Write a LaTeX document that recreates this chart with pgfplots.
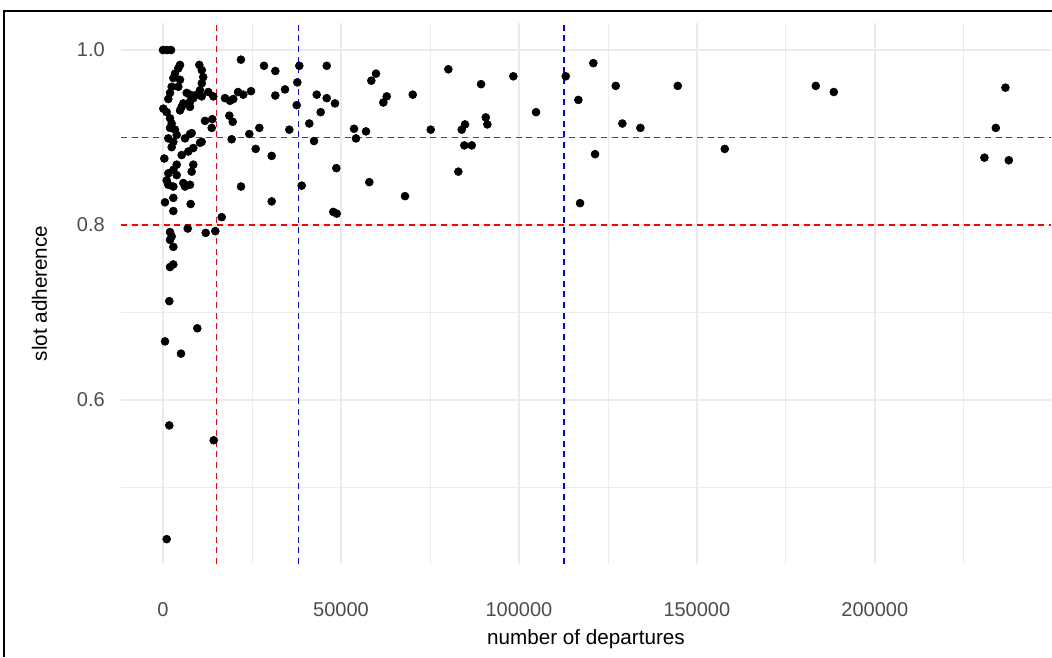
\documentclass[border=0pt]{standalone}
\usepackage{pgfplots}
\pgfplotsset{compat=1.18}
\usepackage{fontspec}
\setmainfont{Liberation Sans}
\definecolor{gridmaj}{HTML}{EBEBEB}
\definecolor{ticklab}{HTML}{4D4D4D}
\definecolor{refred}{HTML}{FF0000}
\definecolor{refblue}{HTML}{0000FF}

\pgfplotstableread{
x y
0 1.000
1100 1.000
2250 1.000
4780 0.983
10200 0.983
4300 0.979
3370 0.973
2900 0.968
2440 0.958
1970 0.951
1490 0.944
10900 0.977
11300 0.969
10900 0.962
10400 0.954
9470 0.949
8510 0.945
7590 0.941
4780 0.966
4300 0.958
6660 0.951
7590 0.949
12730 0.952
14130 0.947
10870 0.947
17420 0.945
18830 0.942
19750 0.944
21080 0.952
22560 0.949
21900 0.989
5700 0.939
100 0.933
1040 0.929
1970 0.922
2440 0.916
4780 0.931
5250 0.935
7590 0.935
1970 0.911
3370 0.909
3850 0.903
1490 0.899
2900 0.895
2440 0.889
7590 0.904
6180 0.899
8510 0.888
7110 0.884
5250 0.880
10400 0.894
11800 0.919
13850 0.921
13680 0.911
18630 0.925
19590 0.918
24250 0.904
19300 0.898
10870 0.895
8060 0.905
370 0.876
3850 0.869
2900 0.863
8510 0.869
8060 0.861
1490 0.859
1040 0.851
1490 0.846
2900 0.844
3850 0.857
5700 0.848
7590 0.846
6180 0.844
560 0.826
2900 0.831
2900 0.816
7780 0.824
16500 0.809
14700 0.793
1970 0.792
2440 0.787
1970 0.783
2900 0.775
6940 0.796
12000 0.791
2900 0.755
1970 0.752
1770 0.713
9640 0.682
560 0.667
5060 0.653
1770 0.571
14250 0.554
1040 0.441
21920 0.844
28380 0.982
31560 0.976
38300 0.982
46000 0.982
59850 0.973
58530 0.965
37740 0.963
34280 0.955
24730 0.953
31560 0.948
43190 0.949
46000 0.945
48330 0.939
44310 0.929
37570 0.937
62860 0.947
61900 0.940
27060 0.911
35490 0.909
41110 0.916
53670 0.910
57040 0.907
54230 0.899
42430 0.896
26050 0.887
30540 0.879
48700 0.865
38970 0.845
57970 0.849
30540 0.827
47850 0.815
48810 0.813
80170 0.978
98430 0.970
113160 0.970
120910 0.985
89360 0.961
127200 0.959
70170 0.949
116700 0.943
104810 0.929
90680 0.923
91130 0.915
129070 0.916
134120 0.911
75220 0.909
84860 0.915
83930 0.909
84670 0.891
86750 0.891
121390 0.881
82980 0.861
68000 0.833
117180 0.825
144630 0.959
157840 0.887
183410 0.959
188470 0.952
236690 0.957
233990 0.911
230790 0.877
237640 0.874
}\pts

\begin{document}
\begin{tikzpicture}
\useasboundingbox (0pt,0pt) rectangle (789pt,492.75pt);
\fill[white] (0pt,0pt) rectangle (789pt,492.75pt);
\draw[black, line width=1.5pt] (3pt,0pt) -- (3pt,484.5pt) -- (789pt,484.5pt);
\begin{axis}[
  at={(90.75pt,69.75pt)}, anchor=south west,
  scale only axis, width=697.5pt, height=405.75pt,
  xmin=-11800, xmax=249500, ymin=0.4126, ymax=1.0309,
  scaled x ticks=false, scaled y ticks=false,
  axis line style={draw=none}, major tick length=0pt, minor tick length=0pt,
  xtick={0,50000,100000,150000,200000},
  xticklabels={0,50000,100000,150000,200000},
  minor xtick={25000,75000,125000,175000,225000},
  ytick={0.6,0.8,1.0},
  yticklabels={0.6,0.8,1.0},
  minor ytick={0.5,0.7,0.9},
  grid=both,
  major grid style={draw=gridmaj, line width=1.1pt},
  minor grid style={draw=gridmaj, line width=0.55pt},
  xticklabel style={font=\fontsize{15}{18}\selectfont, text=ticklab, inner sep=0pt, anchor=north, yshift=-29pt},
  yticklabel style={font=\fontsize{15}{18}\selectfont, text=ticklab, inner sep=0pt, anchor=east, xshift=-12pt},
  every axis x label/.style={at={(axis description cs:0.5,-0.148)}, anchor=base, inner sep=0pt, font=\fontsize{15.5}{18}\selectfont},
  every axis y label/.style={at={(axis description cs:-0.0796,0.5)}, rotate=90, anchor=base, inner sep=0pt, font=\fontsize{15.5}{18}\selectfont},
  xlabel={number of departures},
  ylabel={slot adherence},
  clip=true,
]
\addplot[color=refred, mark=none, line width=1.3pt, dash pattern=on 4.5pt off 3.5pt, forget plot] coordinates {(15000,0.4126) (15000,1.0309)};
\addplot[color=refblue, mark=none, line width=1.3pt, dash pattern=on 4.5pt off 3.5pt, forget plot] coordinates {(38100,0.4126) (38100,1.0309)};
\addplot[color=refblue, mark=none, line width=1.3pt, dash pattern=on 4.5pt off 3.5pt, forget plot] coordinates {(112700,0.4126) (112700,1.0309)};
\addplot[color=refred, mark=none, line width=1.3pt, dash pattern=on 4.5pt off 3.5pt, forget plot] coordinates {(-11800,0.9) (249500,0.9)};
\addplot[color=refred, mark=none, line width=1.3pt, dash pattern=on 4.5pt off 3.5pt, forget plot] coordinates {(-11800,0.8) (249500,0.8)};
\addplot[only marks, mark=*, mark size=3pt, black, mark options={draw=black, fill=black}] table[x=x, y=y] {\pts};
\end{axis}
\end{tikzpicture}
\end{document}
